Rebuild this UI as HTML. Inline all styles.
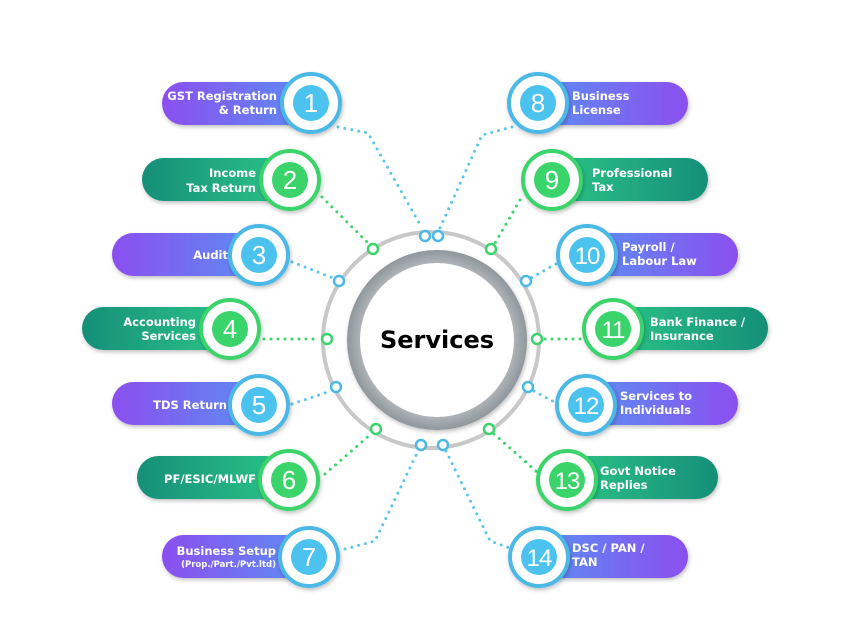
<!DOCTYPE html>
<html><head><meta charset="utf-8"><style>
body{margin:0;background:#fff}
svg{display:block}
text{font-family:"DejaVu Sans","Liberation Sans",sans-serif;font-weight:bold;fill:#fff}
text.n{font-weight:normal;font-family:"Liberation Sans","DejaVu Sans",sans-serif}
</style></head><body>
<svg width="851" height="638" viewBox="0 0 851 638" xmlns="http://www.w3.org/2000/svg">
<defs>
<linearGradient id="pL" x1="0" x2="1"><stop offset="0" stop-color="#8b4ff0"/><stop offset="1" stop-color="#5c8ef2"/></linearGradient>
<linearGradient id="pR" x1="0" x2="1"><stop offset="0" stop-color="#5c8ef2"/><stop offset="1" stop-color="#8b4ff0"/></linearGradient>
<linearGradient id="gL" x1="0" x2="1"><stop offset="0" stop-color="#168f78"/><stop offset="1" stop-color="#2cc487"/></linearGradient>
<linearGradient id="gR" x1="0" x2="1"><stop offset="0" stop-color="#2cc487"/><stop offset="1" stop-color="#168f78"/></linearGradient>
<radialGradient id="ring" cx="0.5" cy="0.5" r="0.5"><stop offset="0.84" stop-color="#b0b6ba"/><stop offset="1" stop-color="#8f979c"/></radialGradient>
<filter id="sh" x="-30%" y="-30%" width="160%" height="160%"><feDropShadow dx="1" dy="2" stdDeviation="2" flood-color="#000" flood-opacity="0.25"/></filter>
</defs>
<g fill="none" stroke-width="3" stroke-linecap="round" stroke-dasharray="0 7">
<polyline stroke="#5cc6e8" points="338,127 368,133 422,228"/>
<polyline stroke="#5cc6e8" points="512,127 482,135 440,228"/>
<polyline stroke="#3ad46a" points="322,197 368,243"/>
<polyline stroke="#3ad46a" points="520,200 495,243"/>
<polyline stroke="#5cc6e8" points="292,262 333,278"/>
<polyline stroke="#5cc6e8" points="556,264 531,278"/>
<polyline stroke="#3ad46a" points="264,339 320,339"/>
<polyline stroke="#3ad46a" points="545,339 583,339"/>
<polyline stroke="#5cc6e8" points="292,404 331,391"/>
<polyline stroke="#5cc6e8" points="534,391 556,403"/>
<polyline stroke="#3ad46a" points="325,474 371,434"/>
<polyline stroke="#3ad46a" points="494,434 537,472"/>
<polyline stroke="#5cc6e8" points="345,549 375,541 418,451"/>
<polyline stroke="#5cc6e8" points="446,451 490,541 512,549"/>
</g>
<circle cx="431" cy="340" r="108" fill="none" stroke="#c8c8c8" stroke-width="4"/>
<circle cx="437" cy="340" r="90" fill="url(#ring)" filter="url(#sh)"/>
<circle cx="437" cy="340" r="77" fill="#fff"/>
<text x="437" y="348" text-anchor="middle" font-size="24" style="fill:#000">Services</text>
<g fill="#fff" stroke-width="2.5">
<circle cx="425" cy="236" r="5" stroke="#4cb8e6"/><circle cx="438" cy="236" r="5" stroke="#4cb8e6"/>
<circle cx="373" cy="249" r="5" stroke="#3ad46a"/><circle cx="491" cy="249" r="5" stroke="#3ad46a"/>
<circle cx="339" cy="281" r="5" stroke="#4cb8e6"/><circle cx="526" cy="281" r="5" stroke="#4cb8e6"/>
<circle cx="327" cy="339" r="5" stroke="#3ad46a"/><circle cx="537" cy="339" r="5" stroke="#3ad46a"/>
<circle cx="336" cy="387" r="5" stroke="#4cb8e6"/><circle cx="528" cy="387" r="5" stroke="#4cb8e6"/>
<circle cx="376" cy="429" r="5" stroke="#3ad46a"/><circle cx="489" cy="429" r="5" stroke="#3ad46a"/>
<circle cx="421" cy="445" r="5" stroke="#4cb8e6"/><circle cx="443" cy="445" r="5" stroke="#4cb8e6"/>
</g>
<g filter="url(#sh)">
<rect x="162" y="82" width="150" height="43" rx="21.5" fill="url(#pL)"/>
<rect x="142" y="158" width="150" height="43" rx="21.5" fill="url(#gL)"/>
<rect x="112" y="233" width="150" height="43" rx="21.5" fill="url(#pL)"/>
<rect x="82" y="307" width="150" height="43" rx="21.5" fill="url(#gL)"/>
<rect x="112" y="382" width="150" height="43" rx="21.5" fill="url(#pL)"/>
<rect x="137" y="456" width="150" height="43" rx="21.5" fill="url(#gL)"/>
<rect x="162" y="535" width="150" height="43" rx="21.5" fill="url(#pL)"/>
<rect x="538" y="82" width="150" height="43" rx="21.5" fill="url(#pR)"/>
<rect x="552" y="158" width="156" height="43" rx="21.5" fill="url(#gR)"/>
<rect x="587" y="233" width="151" height="43" rx="21.5" fill="url(#pR)"/>
<rect x="613" y="307" width="155" height="43" rx="21.5" fill="url(#gR)"/>
<rect x="586" y="382" width="152" height="43" rx="21.5" fill="url(#pR)"/>
<rect x="567" y="456" width="151" height="43" rx="21.5" fill="url(#gR)"/>
<rect x="539" y="535" width="149" height="43" rx="21.5" fill="url(#pR)"/>
</g>
<g font-size="11.5" text-anchor="end">
<text x="277" y="100">GST Registration</text><text x="277" y="114">&amp; Return</text>
<text x="256" y="177">Income</text><text x="256" y="192">Tax Return</text>
<text x="228" y="259">Audit</text>
<text x="196" y="326">Accounting</text><text x="196" y="340">Services</text>
<text x="227" y="409">TDS Return</text>
<text x="256" y="483">PF/ESIC/MLWF</text>
<text x="276" y="555">Business Setup</text>
<text x="276" y="567" font-size="8.5">(Prop./Part./Pvt.ltd)</text>
</g>
<g font-size="11.5">
<text x="572" y="100">Business</text><text x="572" y="114">License</text>
<text x="592" y="177">Professional</text><text x="592" y="191">Tax</text>
<text x="622" y="251">Payroll /</text><text x="622" y="265">Labour Law</text>
<text x="650" y="326">Bank Finance /</text><text x="650" y="340">Insurance</text>
<text x="620" y="400">Services to</text><text x="620" y="414">Individuals</text>
<text x="600" y="475">Govt Notice</text><text x="600" y="489">Replies</text>
<text x="572" y="552">DSC / PAN /</text><text x="572" y="566">TAN</text>
</g>
<g>
<g transform="translate(311,103)"><circle r="29" fill="#fff" stroke="#4cb8e6" stroke-width="4" filter="url(#sh)"/><circle r="18" fill="#4cc3ee"/></g>
<g transform="translate(290,180)"><circle r="29" fill="#fff" stroke="#3ad46a" stroke-width="4" filter="url(#sh)"/><circle r="18" fill="#3ad46a"/></g>
<g transform="translate(259,255)"><circle r="29" fill="#fff" stroke="#4cb8e6" stroke-width="4" filter="url(#sh)"/><circle r="18" fill="#4cc3ee"/></g>
<g transform="translate(230,329)"><circle r="29" fill="#fff" stroke="#3ad46a" stroke-width="4" filter="url(#sh)"/><circle r="18" fill="#3ad46a"/></g>
<g transform="translate(259,405)"><circle r="29" fill="#fff" stroke="#4cb8e6" stroke-width="4" filter="url(#sh)"/><circle r="18" fill="#4cc3ee"/></g>
<g transform="translate(289,480)"><circle r="29" fill="#fff" stroke="#3ad46a" stroke-width="4" filter="url(#sh)"/><circle r="18" fill="#3ad46a"/></g>
<g transform="translate(309,557)"><circle r="29" fill="#fff" stroke="#4cb8e6" stroke-width="4" filter="url(#sh)"/><circle r="18" fill="#4cc3ee"/></g>
<g transform="translate(538,103)"><circle r="29" fill="#fff" stroke="#4cb8e6" stroke-width="4" filter="url(#sh)"/><circle r="18" fill="#4cc3ee"/></g>
<g transform="translate(552,180)"><circle r="29" fill="#fff" stroke="#3ad46a" stroke-width="4" filter="url(#sh)"/><circle r="18" fill="#3ad46a"/></g>
<g transform="translate(587,255)"><circle r="29" fill="#fff" stroke="#4cb8e6" stroke-width="4" filter="url(#sh)"/><circle r="18" fill="#4cc3ee"/></g>
<g transform="translate(613,329)"><circle r="29" fill="#fff" stroke="#3ad46a" stroke-width="4" filter="url(#sh)"/><circle r="18" fill="#3ad46a"/></g>
<g transform="translate(586,405)"><circle r="29" fill="#fff" stroke="#4cb8e6" stroke-width="4" filter="url(#sh)"/><circle r="18" fill="#4cc3ee"/></g>
<g transform="translate(567,480)"><circle r="29" fill="#fff" stroke="#3ad46a" stroke-width="4" filter="url(#sh)"/><circle r="18" fill="#3ad46a"/></g>
<g transform="translate(539,557)"><circle r="29" fill="#fff" stroke="#4cb8e6" stroke-width="4" filter="url(#sh)"/><circle r="18" fill="#4cc3ee"/></g>
</g>
<g font-size="26" text-anchor="middle">
<text class="n" x="311" y="112">1</text>
<text class="n" x="290" y="189">2</text>
<text class="n" x="259" y="264">3</text>
<text class="n" x="230" y="338">4</text>
<text class="n" x="259" y="414">5</text>
<text class="n" x="289" y="489">6</text>
<text class="n" x="309" y="566">7</text>
<text class="n" x="538" y="112">8</text>
<text class="n" x="552" y="189">9</text>
<text class="n" x="587" y="264" font-size="24" letter-spacing="-1">10</text>
<text class="n" x="613" y="338" font-size="24" letter-spacing="-1">11</text>
<text class="n" x="586" y="414" font-size="24" letter-spacing="-1">12</text>
<text class="n" x="567" y="489" font-size="24" letter-spacing="-1">13</text>
<text class="n" x="539" y="566" font-size="24" letter-spacing="-1">14</text>
</g>
</svg>
</body></html>
